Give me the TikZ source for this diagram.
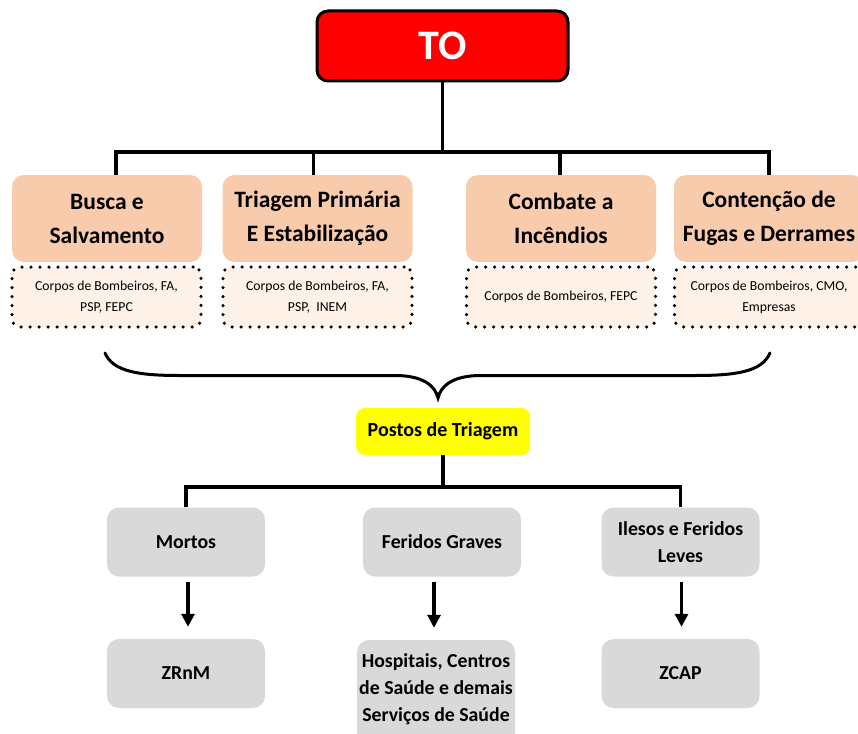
\documentclass[tikz,border=0pt]{standalone}
\usepackage{fontspec}
\setmainfont{Carlito}
\usetikzlibrary{arrows.meta,calc}
\definecolor{tored}{HTML}{FF0000}
\definecolor{orbox}{HTML}{F8CBAD}
\definecolor{dotfill}{HTML}{FDF1E8}
\definecolor{yelbox}{HTML}{FFFF00}
\definecolor{grayb}{HTML}{D9D9D9}
\begin{document}
\begin{tikzpicture}[x=1pt,y=-1pt,
  conn/.style={line width=3.5pt},
  arr/.style={line width=3.5pt,-{Triangle[width=13pt,length=13pt]}},
  orangebox/.style={fill=orbox, rounded corners=12pt, minimum width=190pt, minimum height=87pt, align=center, font=\fontsize{23.5}{34}\selectfont\bfseries, inner sep=0pt},
  dotbox/.style={fill=dotfill, draw=black, line width=3.5pt, dash pattern=on 0pt off 9pt, line cap=round, rounded corners=8pt, minimum width=189pt, minimum height=60pt, align=center, font=\fontsize{13.7}{21}\selectfont, inner sep=0pt},
  graybox/.style={fill=grayb, rounded corners=12pt, minimum width=158pt, minimum height=69pt, align=center, font=\fontsize{19.8}{26.5}\selectfont\bfseries, inner sep=0pt}
]
\useasboundingbox (0,0) rectangle (858,733);

% top
\node[fill=tored, draw=black, line width=3pt, rounded corners=11pt, minimum width=251pt, minimum height=70pt, inner sep=0pt, text=white, font=\fontsize{42}{44}\selectfont\bfseries] (to) at (442.5,46) {TO};

\node[orangebox] (busca) at (107,218.5) {Busca e\\Salvamento};
\node[orangebox] (triagem) at (317.5,218.5) {Triagem Primária\\E Estabilização};
\node[orangebox] (combate) at (561,218.5) {Combate a\\Incêndios};
\node[orangebox] (contencao) at (769,218.5) {Contenção de\\Fugas e Derrames};

\node[dotbox] (dbusca) at (106.5,297) {Corpos de Bombeiros, FA,\\PSP, FEPC};
\node[dotbox] (dtriagem) at (317.5,297) {Corpos de Bombeiros, FA,\\PSP,\ \ INEM};
\node[dotbox] (dcombate) at (561,297) {Corpos de Bombeiros, FEPC};
\node[dotbox] (dcontencao) at (769,297) {Corpos de Bombeiros, CMO,\\Empresas};

\coordinate (bar) at (0,152);
\draw[conn] (to.south) -- (to.south |- bar);
\draw[conn] ([xshift=9pt]busca.north) |- (bar -| contencao.north) -- (contencao.north);
\draw[conn] ([xshift=-4pt]triagem.north) -- ([xshift=-4pt]triagem.north |- bar);
\draw[conn] ([xshift=-1pt]combate.north) -- ([xshift=-1pt]combate.north |- bar);

% brace
\coordinate (brL) at (105,353);
\coordinate (brR) at (770,353);
\coordinate (brT) at (438,398);
\draw[line width=3pt, line cap=round]
  (brL) .. controls (113,372) and (140,375.5) .. (180,375.5)
  -- (395,375.5) .. controls (422,375.5) and (435,385) .. (brT)
  .. controls (441,385) and (454,375.5) .. (481,375.5)
  -- (695,375.5) .. controls (735,375.5) and (762,372) .. (brR);

% postos
\node[fill=yelbox, rounded corners=9pt, minimum width=174pt, minimum height=47pt, inner sep=0pt, font=\fontsize{20}{24}\selectfont\bfseries] (postos) at (443,431.5) {Postos de Triagem};

% bottom level
\node[graybox] (mortos) at (186,542) {Mortos};
\node[graybox] (feridos) at (442,542) {Feridos Graves};
\node[graybox] (ilesos) at (680.5,542) {Ilesos e Feridos\\Leves};

\node[graybox] (zrnm) at (186,673.5) {ZRnM};
\node[graybox, minimum height=110pt] (hosp) at (436,695) {};
\node[font=\fontsize{19.8}{27}\selectfont\bfseries, align=center, inner sep=0pt] (hosptxt) at (436,689) {Hospitais, Centros\\de Saúde e demais\\Serviços de Saúde};
\node[graybox] (zcap) at (680.5,673.5) {ZCAP};

\coordinate (bar2) at (0,487);
\draw[conn] (postos.south) -- (postos.south |- bar2);
\draw[conn] (mortos.north) |- (bar2 -| ilesos.north) -- (ilesos.north);

\draw[arr] ([xshift=2pt,yshift=-5pt]mortos.south) -- ([xshift=2pt,yshift=12pt]zrnm.north);
\draw[arr] ([xshift=-8pt,yshift=-5pt]feridos.south) -- ([xshift=-2pt,yshift=12pt]hosp.north);
\draw[arr] ([xshift=1pt,yshift=-5pt]ilesos.south) -- ([xshift=1pt,yshift=12pt]zcap.north);
\end{tikzpicture}
\end{document}
